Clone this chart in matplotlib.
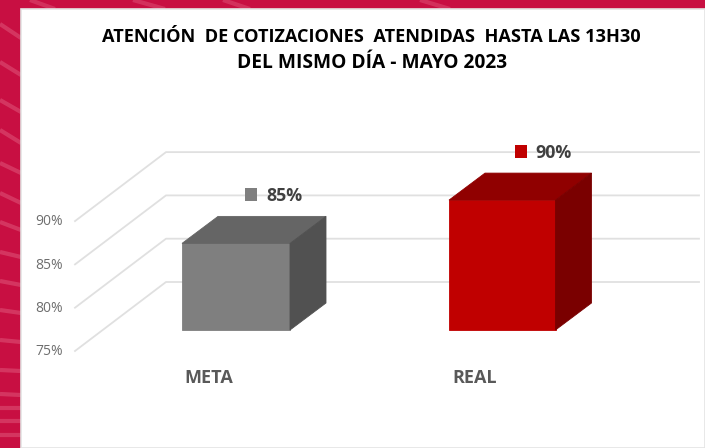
import matplotlib
matplotlib.use("Agg")
import matplotlib.pyplot as plt
from matplotlib.patches import Polygon, Rectangle

plt.rcParams["font.family"] = ["Open Sans", "DejaVu Sans"]

categories = ["META", "REAL"]
values = [85, 90]
ticks = [75, 80, 85, 90]
tick_labels = ["75%", "80%", "85%", "90%"]
title_lines = ["ATENCIÓN  DE COTIZACIONES  ATENDIDAS  HASTA LAS 13H30", "DEL MISMO DÍA - MAYO 2023"]

front_colors = ["#7f7f7f", "#c00000"]
top_colors = ["#656565", "#900000"]
side_colors = ["#515151", "#7a0000"]

# layout in pixels, the value axis is worked out from them
W, H = 705, 448
Y75, PX_PER_UNIT = 330.0, 8.66
BAR_X = [182, 449]
BAR_W = [108, 106.5]
DEPTH_X, DEPTH_Y = 36, 27
KEY_X = [245, 515]
LABEL_X = [266, 535]
CAT_X = [209, 475]

def v2y(px):
    return 75 + (Y75 - px) / PX_PER_UNIT

fig = plt.figure(figsize=(W / 100, H / 100), dpi=100, facecolor="#c80f42")
ax = fig.add_axes([0, 0, 1, 1])
ax.set_xlim(0, W)
ax.set_ylim(v2y(H), v2y(0))
ax.axis("off")

dz = DEPTH_Y / PX_PER_UNIT

# streaks in the background
for (y0, y1) in [(24, 38), (62, 75), (100, 112), (130, 143), (163, 173), (193, 203), (222, 230), (252, 257), (281, 285), (310, 313), (340, 342), (370, 371), (394, 395), (408, 408), (421, 421), (435, 435)]:
    ax.plot([0, 21], [v2y(y0), v2y(y1)], color="#e8708f", lw=3, alpha=0.4, solid_capstyle="butt")
for (x0, x1) in [(30, 55), (133, 165), (223, 250), (420, 450)]:
    ax.plot([x0, x1], [v2y(0), v2y(9)], color="#e8708f", lw=3, alpha=0.35, solid_capstyle="butt")

ax.add_patch(Rectangle((21, v2y(H)), W - 21, v2y(9) - v2y(H), fc="white", ec="#e4e4e4", lw=1.2, zorder=2))

# walls and gridlines
for t, lab in zip(ticks, tick_labels):
    start = t - 21 / PX_PER_UNIT
    back = start + 69 / PX_PER_UNIT
    ax.plot([75, 166, 699], [start, back, back], color="#e0e0e0", lw=1.3, zorder=3)
    ax.text(62.5, start - 0.8 / PX_PER_UNIT, lab, ha="right", va="center", fontsize=10, color="#6e6e6e", zorder=5)

# bars
for i, (x, v, cat) in enumerate(zip(BAR_X, values, categories)):
    fc, tc, sc = front_colors[i], top_colors[i], side_colors[i]
    w = BAR_W[i]
    ax.add_patch(Rectangle((x, 75), w, v - 75, fc=fc, ec=fc, lw=0.6, zorder=4))
    ax.add_patch(Polygon([(x, v), (x + DEPTH_X, v + dz), (x + w + DEPTH_X, v + dz), (x + w, v)], fc=tc, ec=tc, lw=0.6, zorder=4))
    ax.add_patch(Polygon([(x + w, 75), (x + w + DEPTH_X, 75 + dz), (x + w + DEPTH_X, v + dz), (x + w, v)], fc=sc, ec=sc, lw=0.6, zorder=4))
    # data label with its key
    key_y = v + 48.5 / PX_PER_UNIT
    ax.add_patch(Rectangle((KEY_X[i], key_y - 6.5 / PX_PER_UNIT), 12, 13 / PX_PER_UNIT, fc=fc, ec="none", zorder=5))
    ax.text(LABEL_X[i], key_y - 1.5 / PX_PER_UNIT, f"{v}%", ha="left", va="center", fontsize=12.8, fontweight="bold", color="#404040", zorder=5)
    ax.text(CAT_X[i], v2y(378), cat, ha="center", va="center", fontsize=13, fontweight="bold", color="#595959", zorder=5)

ax.text(371, v2y(37), title_lines[0], ha="center", va="center", fontsize=13.05, fontweight="bold", color="black", zorder=5)
ax.text(372, v2y(63), title_lines[1], ha="center", va="center", fontsize=13.8, fontweight="bold", color="black", zorder=5)

fig.savefig("out.png", dpi=100, facecolor=fig.get_facecolor())
